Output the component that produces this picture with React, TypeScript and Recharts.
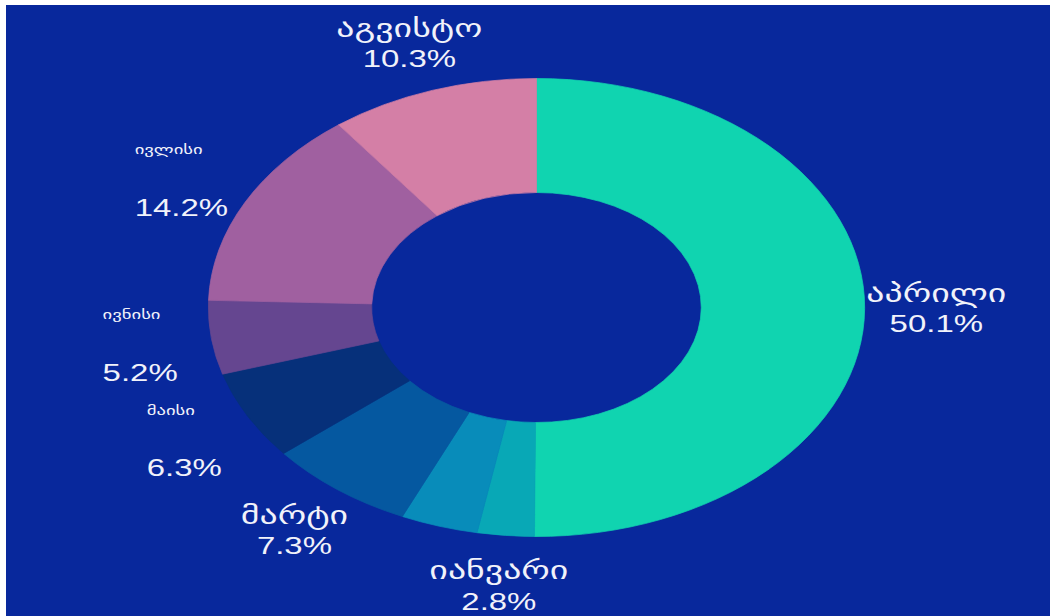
import React from 'react';
import { PieChart, Pie, Cell } from 'recharts';

// Month names (Georgian) in slice order, clockwise from 12 o'clock
const months: string[] = ['აპრილი', 'იანვარი', 'თებერვალი', 'მარტი', 'მაისი', 'ივნისი', 'ივლისი', 'აგვისტო'];
// Share of each month, percent
const shares: number[] = [50.1, 2.8, 3.8, 7.3, 6.3, 5.2, 14.2, 10.3];
// Slice colours
const colors: string[] = ['#10d4b0', '#08a8b6', '#088cba', '#0558a0', '#06307a', '#654690', '#a060a0', '#d47fa6'];

// Label styling per month (style only, no values)
const labelStyle: Record<string, { nameSize: number; gap: number; small: boolean } | undefined> = {
  'აპრილი': { nameSize: 25, gap: 16, small: false },
  'იანვარი': { nameSize: 25, gap: 16.5, small: false },
  'მარტი': { nameSize: 25, gap: 16, small: false },
  'მაისი': { nameSize: 13, gap: 28, small: true },
  'ივნისი': { nameSize: 13, gap: 29, small: true },
  'ივლისი': { nameSize: 13, gap: 29, small: true },
  'აგვისტო': { nameSize: 25, gap: 15.5, small: false },
};

const data = months.map((m, i) => ({ name: m, value: shares[i] }));

const S = 1.433; // horizontal stretch of the picture
const W = 1044;
const H = 611;
const PCT_SIZE = 23;
const FONT = '"Liberation Sans", "DejaVu Sans", sans-serif';
const TEXT = '#f1f2fa';
const RADIAN = Math.PI / 180;

const charW: Record<string, number> = { '.': 0.278, '%': 0.889 };
const pctWidth = (s: string, size: number) =>
  s.split('').reduce((a, c) => a + (charW[c] ?? 0.556), 0) * size;

const renderLabel = (props: any) => {
  const { cx, cy, midAngle, outerRadius, name, value } = props;
  const st = labelStyle[name];
  if (!st) return null;
  const r = outerRadius + 50;
  const x = cx + r * Math.cos(-midAngle * RADIAN);
  const y = cy + r * Math.sin(-midAngle * RADIAN);
  const pct = `${Number(value).toFixed(1)}%`;
  const pw = pctWidth(pct, PCT_SIZE);
  const nameY = y - st.gap + st.nameSize * (st.small ? 0.28 : 0.4);
  const pctY = y + st.gap + PCT_SIZE * 0.35;
  return (
    <g>
      <text
        x={st.small ? x - pw / 2 : x}
        y={nameY}
        textAnchor={st.small ? 'start' : 'middle'}
        fill={TEXT}
        fontSize={st.nameSize}
        fontFamily={FONT}
      >
        {name}
      </text>
      <text x={x} y={pctY} textAnchor="middle" fill={TEXT} fontSize={PCT_SIZE} fontFamily={FONT}>
        {pct}
      </text>
    </g>
  );
};

export default function App() {
  const lw = W / S;
  return (
    <div
      style={{
        position: 'fixed',
        left: 6,
        top: 5,
        width: W,
        height: H,
        background: '#08289c',
        overflow: 'hidden',
      }}
    >
      <div style={{ width: lw, height: H, transform: `scaleX(${S})`, transformOrigin: '0 0' }}>
        <PieChart width={lw} height={H} margin={{ top: 0, right: 0, bottom: 0, left: 0 }}>
          <Pie
            data={data}
            dataKey="value"
            nameKey="name"
            cx={530.5 / S}
            cy={302.5}
            outerRadius={229}
            innerRadius={115}
            startAngle={90}
            endAngle={-270}
            labelLine={false}
            label={renderLabel}
            isAnimationActive={false}
          >
            {data.map((d, i) => (
              <Cell key={d.name} fill={colors[i]} stroke={colors[i]} strokeWidth={0.6} />
            ))}
          </Pie>
        </PieChart>
      </div>
    </div>
  );
}
